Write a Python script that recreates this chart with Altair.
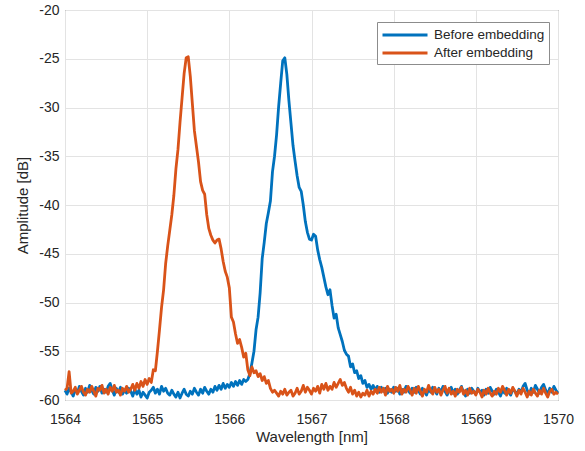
import altair as alt
import pandas as pd

wl_start = 1564.0
wl_step = 0.025

before_amp = [
    -59.0, -59.4, -58.8, -59.2, -59.6, -58.9, -59.3, -58.6, -59.1, -59.5,
    -58.8, -59.2, -58.5, -59.0, -59.4, -58.7, -59.1, -58.6, -59.3, -58.9,
    -59.2, -58.6, -58.3, -59.0, -59.5, -58.8, -59.2, -58.7, -59.4, -59.0,
    -59.3, -58.8, -59.1, -59.6, -58.9, -59.4, -59.0, -59.7, -59.2, -59.5,
    -59.8, -59.2, -59.0, -58.7, -59.3, -58.9, -59.4, -58.6, -59.1, -58.8,
    -59.3, -59.5, -59.0, -59.4, -59.7, -59.2, -59.8, -59.3, -58.9, -59.4,
    -59.6, -59.1, -59.4, -58.8, -59.2, -59.5, -58.9, -59.3, -58.7, -59.1,
    -59.4, -58.9, -59.2, -58.6, -59.0, -58.5, -58.9, -58.3, -58.8, -58.4,
    -58.7, -58.2, -58.6, -58.1, -58.5, -58.0, -58.4, -57.9, -58.1, -57.9,
    -57.3, -56.2, -55.0, -52.8, -51.5, -49.0, -45.5, -43.8, -41.9, -40.8,
    -39.6, -36.6, -35.0, -32.8, -29.9, -27.5, -25.2, -24.9, -26.6, -29.3,
    -31.6, -33.9, -35.5, -37.0, -38.2, -38.6, -40.0, -41.7, -42.8, -43.5,
    -43.6, -43.0, -43.2, -44.6, -45.6, -46.4, -47.4, -48.4, -49.2, -48.7,
    -50.3, -51.6, -51.2, -52.6, -53.3, -54.0, -54.9, -55.3, -55.5, -56.6,
    -56.3, -57.2, -57.0, -57.8, -57.5, -58.3, -58.0, -58.7, -58.4, -58.9,
    -58.5, -59.0, -58.6, -59.2, -58.7, -59.1, -58.8, -59.3, -58.9, -59.2,
    -58.7, -59.1, -58.8, -59.4, -58.9, -59.2, -58.6, -59.0, -59.3, -58.8,
    -59.2, -58.7, -59.0, -59.4, -58.8, -59.1, -59.5, -58.9, -59.2, -58.7,
    -59.0, -59.4, -58.8, -59.2, -58.6, -59.1, -59.5, -59.0, -58.7, -59.3,
    -58.9, -59.4, -59.0, -58.6, -59.2, -59.6, -58.9, -59.3, -58.8, -59.1,
    -59.4, -58.8, -59.2, -59.0, -59.5, -58.9, -59.3, -58.7, -59.1, -59.4,
    -58.9, -59.2, -59.6, -59.0, -59.3, -58.8, -59.2, -59.5, -58.9, -59.1,
    -59.4, -58.9, -59.2, -58.6, -58.3, -59.0, -59.4, -58.8, -59.2, -58.5,
    -58.9, -59.3, -58.7, -58.4, -59.0, -59.4, -58.8, -59.2, -58.6, -59.0,
    -59.3,
]

after_amp = [
    -59.0, -58.8, -57.1, -59.3, -59.1, -58.7, -59.4, -59.0, -58.6, -59.2,
    -59.5, -58.9, -59.2, -58.6, -59.1, -59.6, -58.8, -59.0, -58.5, -59.3,
    -58.9, -59.4, -58.7, -59.1, -58.5, -59.2, -59.0, -59.5, -58.8, -59.1,
    -58.6, -59.2, -58.9, -58.4, -59.0, -58.3, -58.8, -58.1, -58.6, -57.9,
    -58.4, -57.8, -58.2, -56.9, -57.0, -55.0, -52.8, -50.5, -48.7, -46.0,
    -44.2, -42.6, -41.0, -39.0, -36.3, -34.3, -31.5, -29.0, -26.5, -24.9,
    -24.8, -26.8, -29.6, -32.4, -34.0, -35.6, -37.6, -38.5, -38.9, -41.0,
    -42.4, -43.1, -43.6, -43.9, -43.6, -43.5, -44.5, -45.8, -46.8, -47.4,
    -48.5, -51.5, -52.0, -53.2, -54.2, -53.8, -54.6, -55.6, -55.2, -56.9,
    -57.5, -56.6, -57.2, -57.0, -57.6, -57.3, -58.0, -57.6, -58.3, -58.0,
    -58.8, -59.2, -59.0, -59.3, -59.6, -59.1, -59.4, -58.9, -59.5, -59.2,
    -59.0, -59.6, -59.3, -58.8, -59.4, -59.1, -58.5, -59.2, -58.7, -59.0,
    -59.4, -58.8, -59.1, -58.6, -59.3, -58.4, -58.9, -58.3, -59.0, -58.6,
    -58.9, -58.2, -58.7, -58.3, -57.9, -58.5, -58.2, -58.8, -59.2, -58.7,
    -59.4, -59.0, -59.6, -59.2, -59.7, -59.3, -59.5, -59.0, -59.6, -59.1,
    -59.4, -58.9, -59.3, -58.7, -59.2, -58.8, -59.5, -58.6, -59.1, -58.9,
    -59.3, -58.7, -59.1, -58.5, -59.4, -58.9, -59.2, -58.6, -59.0, -59.5,
    -58.8, -59.3, -58.6, -59.1, -59.6, -58.9, -59.2, -58.5, -59.0, -59.4,
    -58.7, -59.2, -58.9, -59.5, -59.0, -58.6, -59.3, -58.8, -59.4, -59.1,
    -59.6, -58.9, -59.2, -58.7, -59.4, -59.0, -59.5, -58.8, -59.3, -59.1,
    -59.5, -58.9, -59.2, -59.7, -59.0, -59.4, -58.8, -59.3, -59.6, -59.1,
    -59.4, -58.8, -59.2, -58.6, -59.0, -59.5, -58.9, -59.3, -58.7, -59.1,
    -59.6, -59.0, -59.4, -58.8, -59.2, -59.7, -59.1, -59.5, -58.9, -59.3,
    -59.6, -59.0, -59.4, -58.8, -59.3, -59.7, -59.1, -58.9, -59.4, -59.2,
    -59.4,
]

series_names = ["Before embedding", "After embedding"]
series_colors = ["#0072BD", "#D95319"]
x_ticks = [1564, 1565, 1566, 1567, 1568, 1569, 1570]
y_ticks = [-60, -55, -50, -45, -40, -35, -30, -25, -20]

rows = []
for name, amps in zip(series_names, [before_amp, after_amp]):
    for i, a in enumerate(amps):
        rows.append({"series": name, "wl": round(wl_start + i * wl_step, 3), "amp": a})
df = pd.DataFrame(rows)

FONT = "Liberation Sans"
TXT = "#262626"

color = alt.Color(
    "series:N",
    scale=alt.Scale(domain=series_names, range=series_colors),
    legend=alt.Legend(
        title=None, orient="none", legendX=312, legendY=12,
        symbolType="M-1,0H5", symbolSize=225, symbolStrokeWidth=3,
        labelFont=FONT, labelFontSize=13.5, labelColor=TXT,
        fillColor="white", strokeColor="#8c8c8c", padding=4,
        rowPadding=2, labelOffset=35,
    ),
)

x = alt.X("wl:Q", scale=alt.Scale(domain=[1564, 1570], nice=False, zero=False),
          axis=alt.Axis(values=x_ticks, labelExpr="datum.value + ''",
                        labelFlush=False, title="Wavelength [nm]"))
y = alt.Y("amp:Q", scale=alt.Scale(domain=[-60, -20], nice=False, zero=False),
          axis=alt.Axis(values=y_ticks, labelExpr="datum.value + ''",
                        labelFlush=False, title="Amplitude [dB]"))

layers = []
for name in series_names:
    layers.append(
        alt.Chart(df).transform_filter(alt.datum.series == name)
        .mark_line(strokeWidth=2.8, strokeJoin="round")
        .encode(x=x, y=y, color=color)
    )

chart = alt.layer(*layers).properties(
    width=493, height=390,
    autosize=alt.AutoSizeParams(type="none"),
    padding={"left": 65, "top": 10, "right": 27, "bottom": 51},
    background="white",
).configure_view(
    stroke="#555555", strokeWidth=1
).configure_axis(
    domain=False, ticks=False, grid=True, gridColor="#e3e3e3", gridWidth=1,
    labelFont=FONT, labelFontSize=14, labelColor=TXT,
    titleFont=FONT, titleFontSize=15, titleColor=TXT, titleFontWeight="normal",
).configure_axisX(
    labelPadding=12, titlePadding=3
).configure_axisY(
    labelPadding=6, titlePadding=8
)

chart.save("out.html", embed_options={"renderer": "svg", "actions": False})
